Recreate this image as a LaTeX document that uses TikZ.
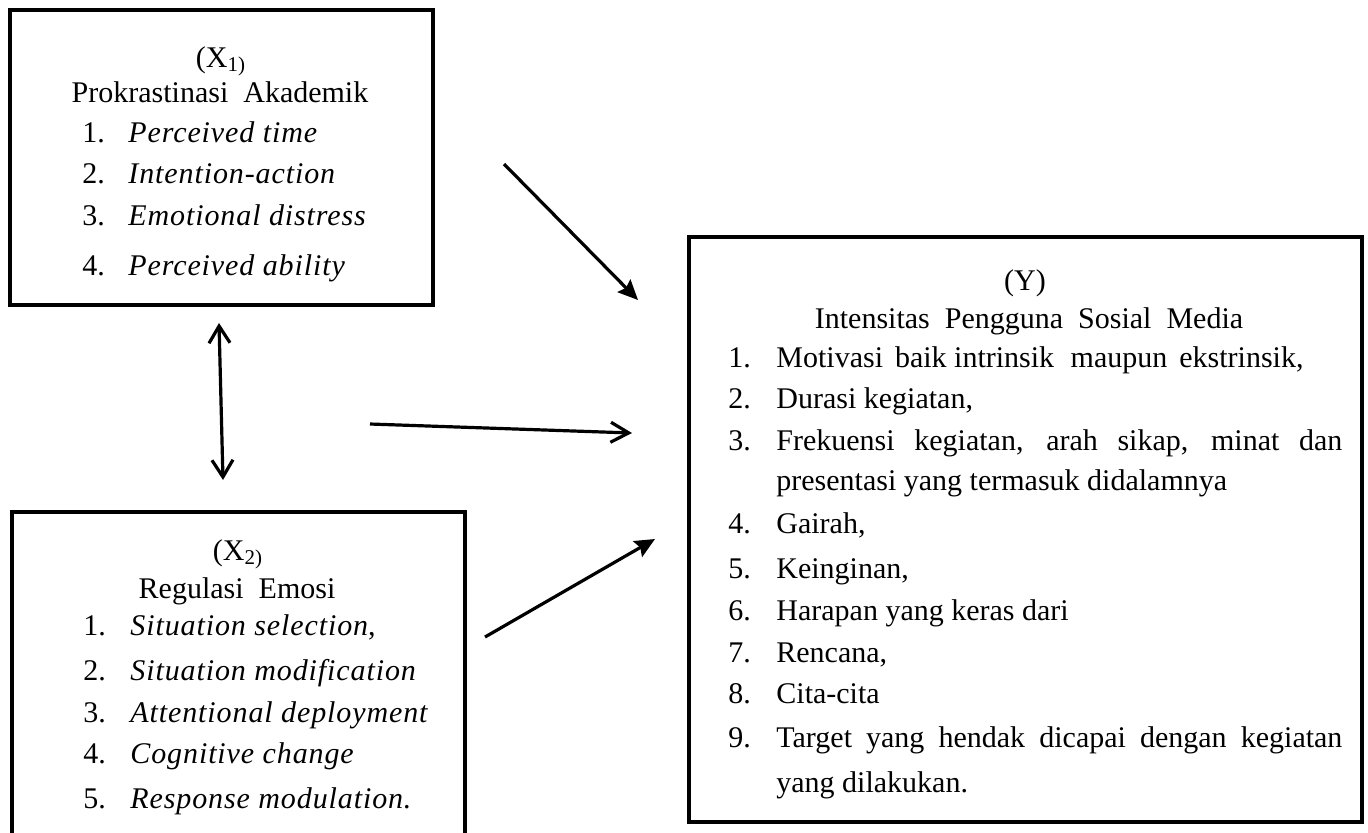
\documentclass[tikz,border=0pt]{standalone}
\usepackage{fontspec}
\setmainfont{Liberation Serif}[ItalicFeatures={LetterSpace=3}]
\usetikzlibrary{arrows.meta}
\tikzset{
 boxnode/.style={draw, line width=2pt, inner sep=0pt},
 txt/.style={inner sep=0pt, anchor=base west, font=\fontsize{15}{18}\selectfont},
 ctxt/.style={inner sep=0pt, anchor=base, font=\fontsize{15}{18}\selectfont},
 conn/.style={line width=1.6pt},
 filledhead/.style={conn, -{Stealth[length=10pt,width=9pt,inset=1.5pt]}},
 openhead/.style={conn, -{Straight Barb[length=9pt,width=10pt]}},
 dblhead/.style={conn, {Straight Barb[length=8.5pt,width=10.5pt]}-{Straight Barb[length=8.5pt,width=10.5pt]}},
}
\newcommand{\itm}[3]{\makebox[#1][l]{#2}#3}
\begin{document}
\begin{tikzpicture}[x=0.5pt,y=-0.5pt]
\useasboundingbox (0,0) rectangle (1368,832);
\clip (0,0) rectangle (1368,832);
% boxes
\node[boxnode, minimum width=211.5pt, minimum height=147.5pt] (bx1) at (221.5,157.5) {};
\node[boxnode, minimum width=226.5pt, minimum height=174pt] (bx2) at (238.5,686) {};
\node[boxnode, minimum width=336.5pt, minimum height=292.5pt] (by) at (1025.5,529.5) {};
% X1 text
\node[ctxt] (x1a) at (221,67) {(X\textsubscript{1)}};
\node[ctxt] (x1b) at (220,102) {Prokrastinasi\hspace{0.5em}Akademik};
\node[txt] (x1i1) at (82,142) {\itm{23pt}{1.}{\textit{Perceived time}}};
\node[txt] (x1i2) at (82,183) {\itm{23pt}{2.}{\textit{Intention-action}}};
\node[txt] (x1i3) at (82,225) {\itm{23pt}{3.}{\textit{Emotional distress}}};
\node[txt] (x1i4) at (82,275) {\itm{23pt}{4.}{\textit{Perceived ability}}};
% X2 text
\node[ctxt] (x2a) at (238,560) {(X\textsubscript{2)}};
\node[ctxt] (x2b) at (237,598) {Regulasi\hspace{0.5em}Emosi};
\node[txt] (x2i1) at (83,635) {\itm{23.5pt}{1.}{\textit{Situation selection}},};
\node[txt] (x2i2) at (83,680) {\itm{23.5pt}{2.}{\textit{Situation modification}}};
\node[txt] (x2i3) at (83,722) {\itm{23.5pt}{3.}{\textit{Attentional deployment}}};
\node[txt] (x2i4) at (83,763) {\itm{23.5pt}{4.}{\textit{Cognitive change}}};
\node[txt] (x2i5) at (83,808) {\itm{23.5pt}{5.}{\textit{Response modulation}.}};
% Y text
\node[ctxt] (ya) at (1025,290) {(Y)};
\node[ctxt] (yb) at (1029,328) {Intensitas\hspace{0.5em}Pengguna\hspace{0.5em}Sosial\hspace{0.5em}Media};
\node[txt] (yi1) at (728,367) {\itm{24pt}{1.}{Motivasi\hspace{0.4em}baik intrinsik\hspace{0.55em}maupun\hspace{0.4em}ekstrinsik,}};
\node[txt] (yi2) at (728,408) {\itm{24pt}{2.}{Durasi kegiatan,}};
\node[txt] (yi3) at (728,450) {\itm{24pt}{3.}{\makebox[283pt][s]{Frekuensi kegiatan, arah sikap, minat dan}}};
\node[txt] (yi3b) at (776,490) {presentasi yang termasuk didalamnya};
\node[txt] (yi4) at (728,533) {\itm{24pt}{4.}{Gairah,}};
\node[txt] (yi5) at (728,578) {\itm{24pt}{5.}{Keinginan,}};
\node[txt] (yi6) at (728,620) {\itm{24pt}{6.}{Harapan yang keras dari}};
\node[txt] (yi7) at (728,662) {\itm{24pt}{7.}{Rencana,}};
\node[txt] (yi8) at (728,703) {\itm{24pt}{8.}{Cita-cita}};
\node[txt] (yi9) at (728,747) {\itm{24pt}{9.}{\makebox[283pt][s]{Target yang hendak dicapai dengan kegiatan}}};
\node[txt] (yi9b) at (776,792) {yang dilakukan.};
% connectors
\coordinate (a1s) at (504,164); \coordinate (a1e) at (638,300);
\coordinate (a2s) at (370,424); \coordinate (a2e) at (632,433);
\coordinate (a3s) at (485,637); \coordinate (a3e) at (655,539);
\coordinate (a4s) at (219,323); \coordinate (a4e) at (223,480);
\draw[filledhead] (a1s) -- (a1e);
\draw[openhead] (a2s) -- (a2e);
\draw[filledhead] (a3s) -- (a3e);
\draw[dblhead] (a4s) -- (a4e);
\end{tikzpicture}
\end{document}
